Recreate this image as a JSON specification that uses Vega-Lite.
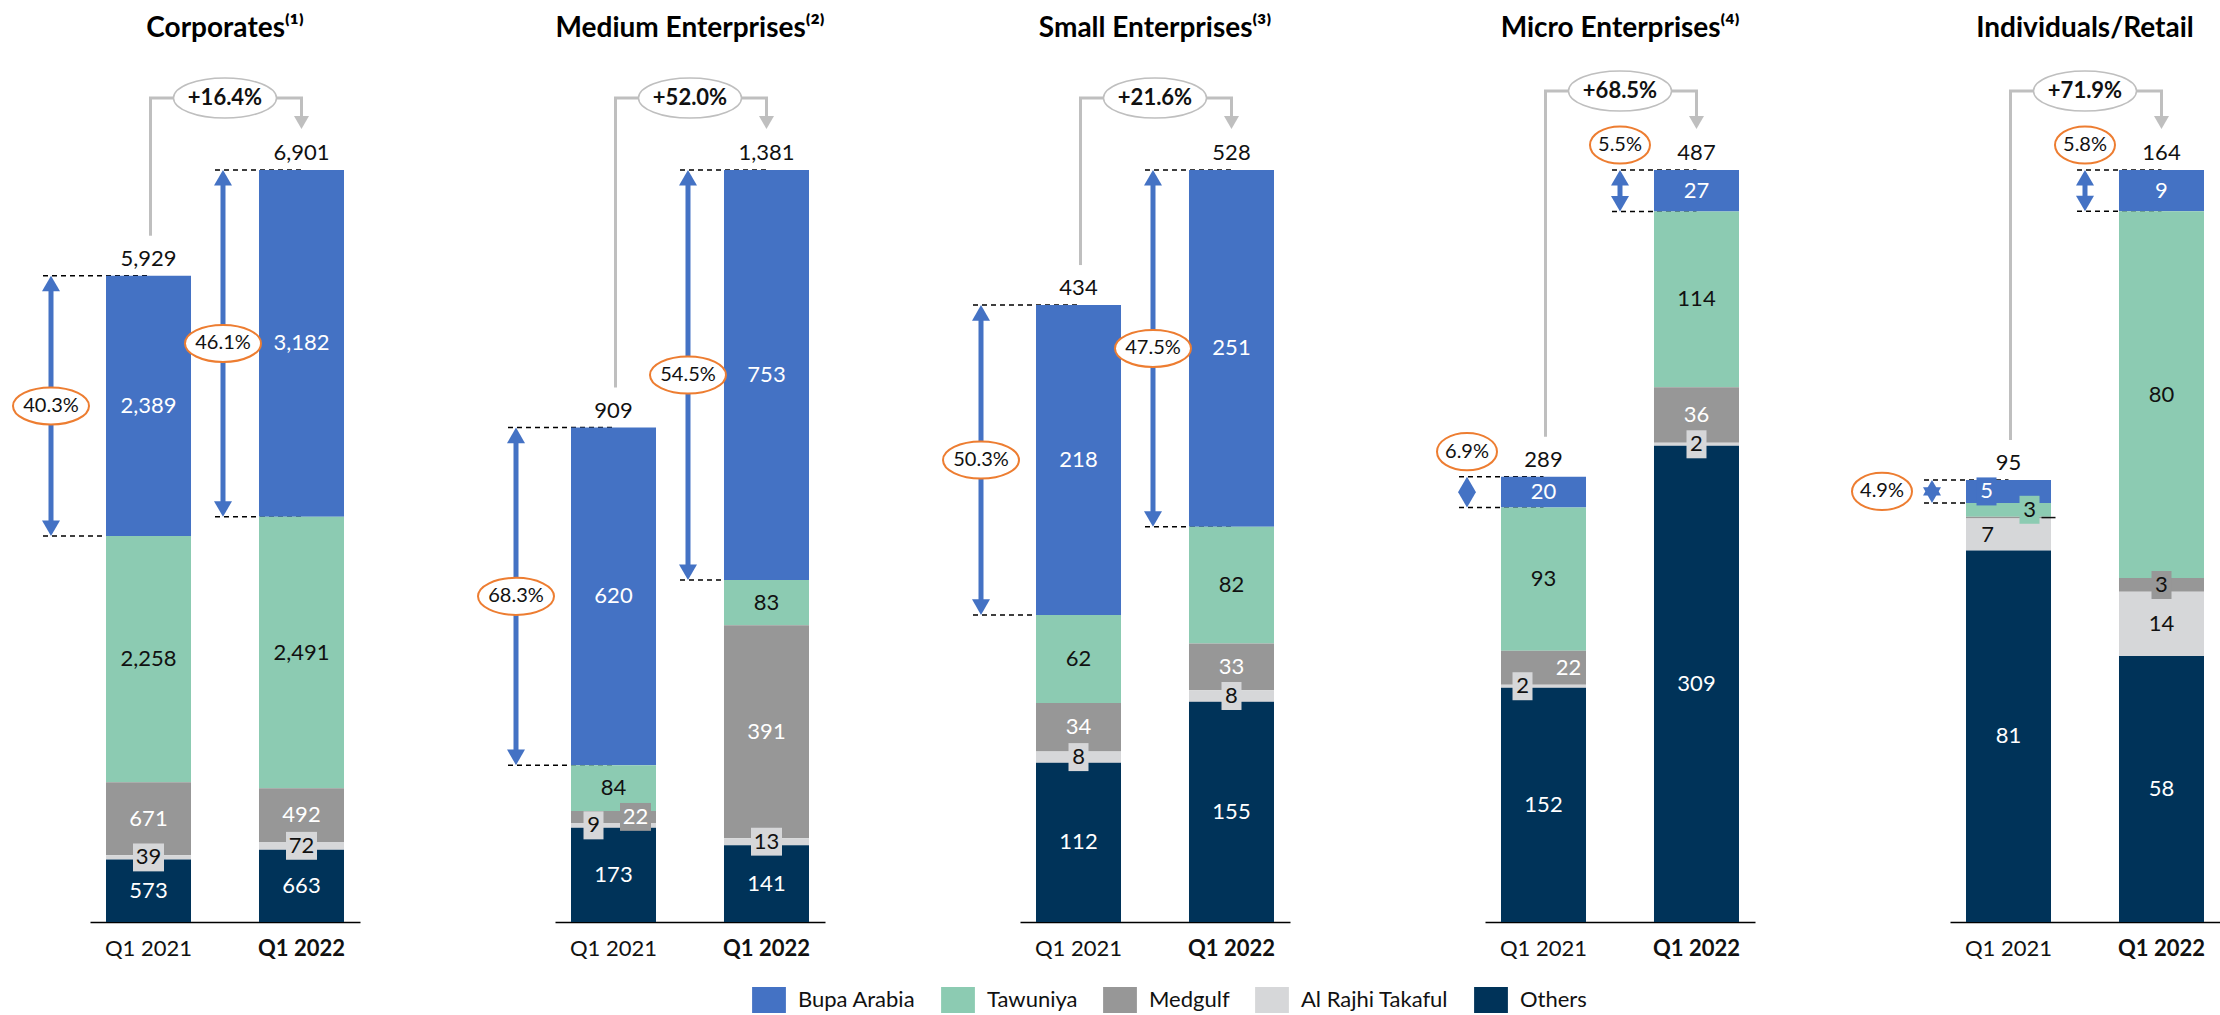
{
  "$schema": "https://vega.github.io/schema/vega-lite/v6.json",
  "background": "white",
  "padding": {"left": 9, "top": 15, "right": 0, "bottom": 0},
  "bounds": "flush",
  "config": {
    "view": {"stroke": null},
    "font": "Lato",
    "axisX": {"labelFont": "Lato", "labelFontSize": 22, "labelColor": "#111111", "ticks": false, "domainColor": "#000000", "domainWidth": 1.5, "labelPadding": 16, "labelAngle": 0, "grid": false}
  },
  "data": {"values": [
    {"panel": "Corporates⁽¹⁾", "period": "Q1 2021", "insurer": "Bupa Arabia", "value": 2389},
    {"panel": "Corporates⁽¹⁾", "period": "Q1 2021", "insurer": "Tawuniya", "value": 2258},
    {"panel": "Corporates⁽¹⁾", "period": "Q1 2021", "insurer": "Medgulf", "value": 671},
    {"panel": "Corporates⁽¹⁾", "period": "Q1 2021", "insurer": "Al Rajhi Takaful", "value": 39},
    {"panel": "Corporates⁽¹⁾", "period": "Q1 2021", "insurer": "Others", "value": 573},
    {"panel": "Corporates⁽¹⁾", "period": "Q1 2022", "insurer": "Bupa Arabia", "value": 3182},
    {"panel": "Corporates⁽¹⁾", "period": "Q1 2022", "insurer": "Tawuniya", "value": 2491},
    {"panel": "Corporates⁽¹⁾", "period": "Q1 2022", "insurer": "Medgulf", "value": 492},
    {"panel": "Corporates⁽¹⁾", "period": "Q1 2022", "insurer": "Al Rajhi Takaful", "value": 72},
    {"panel": "Corporates⁽¹⁾", "period": "Q1 2022", "insurer": "Others", "value": 663},
    {"panel": "Medium Enterprises⁽²⁾", "period": "Q1 2021", "insurer": "Bupa Arabia", "value": 620},
    {"panel": "Medium Enterprises⁽²⁾", "period": "Q1 2021", "insurer": "Tawuniya", "value": 84},
    {"panel": "Medium Enterprises⁽²⁾", "period": "Q1 2021", "insurer": "Medgulf", "value": 22},
    {"panel": "Medium Enterprises⁽²⁾", "period": "Q1 2021", "insurer": "Al Rajhi Takaful", "value": 9},
    {"panel": "Medium Enterprises⁽²⁾", "period": "Q1 2021", "insurer": "Others", "value": 173},
    {"panel": "Medium Enterprises⁽²⁾", "period": "Q1 2022", "insurer": "Bupa Arabia", "value": 753},
    {"panel": "Medium Enterprises⁽²⁾", "period": "Q1 2022", "insurer": "Tawuniya", "value": 83},
    {"panel": "Medium Enterprises⁽²⁾", "period": "Q1 2022", "insurer": "Medgulf", "value": 391},
    {"panel": "Medium Enterprises⁽²⁾", "period": "Q1 2022", "insurer": "Al Rajhi Takaful", "value": 13},
    {"panel": "Medium Enterprises⁽²⁾", "period": "Q1 2022", "insurer": "Others", "value": 141},
    {"panel": "Small Enterprises⁽³⁾", "period": "Q1 2021", "insurer": "Bupa Arabia", "value": 218},
    {"panel": "Small Enterprises⁽³⁾", "period": "Q1 2021", "insurer": "Tawuniya", "value": 62},
    {"panel": "Small Enterprises⁽³⁾", "period": "Q1 2021", "insurer": "Medgulf", "value": 34},
    {"panel": "Small Enterprises⁽³⁾", "period": "Q1 2021", "insurer": "Al Rajhi Takaful", "value": 8},
    {"panel": "Small Enterprises⁽³⁾", "period": "Q1 2021", "insurer": "Others", "value": 112},
    {"panel": "Small Enterprises⁽³⁾", "period": "Q1 2022", "insurer": "Bupa Arabia", "value": 251},
    {"panel": "Small Enterprises⁽³⁾", "period": "Q1 2022", "insurer": "Tawuniya", "value": 82},
    {"panel": "Small Enterprises⁽³⁾", "period": "Q1 2022", "insurer": "Medgulf", "value": 33},
    {"panel": "Small Enterprises⁽³⁾", "period": "Q1 2022", "insurer": "Al Rajhi Takaful", "value": 8},
    {"panel": "Small Enterprises⁽³⁾", "period": "Q1 2022", "insurer": "Others", "value": 155},
    {"panel": "Micro Enterprises⁽⁴⁾", "period": "Q1 2021", "insurer": "Bupa Arabia", "value": 20},
    {"panel": "Micro Enterprises⁽⁴⁾", "period": "Q1 2021", "insurer": "Tawuniya", "value": 93},
    {"panel": "Micro Enterprises⁽⁴⁾", "period": "Q1 2021", "insurer": "Medgulf", "value": 22},
    {"panel": "Micro Enterprises⁽⁴⁾", "period": "Q1 2021", "insurer": "Al Rajhi Takaful", "value": 2},
    {"panel": "Micro Enterprises⁽⁴⁾", "period": "Q1 2021", "insurer": "Others", "value": 152},
    {"panel": "Micro Enterprises⁽⁴⁾", "period": "Q1 2022", "insurer": "Bupa Arabia", "value": 27},
    {"panel": "Micro Enterprises⁽⁴⁾", "period": "Q1 2022", "insurer": "Tawuniya", "value": 114},
    {"panel": "Micro Enterprises⁽⁴⁾", "period": "Q1 2022", "insurer": "Medgulf", "value": 36},
    {"panel": "Micro Enterprises⁽⁴⁾", "period": "Q1 2022", "insurer": "Al Rajhi Takaful", "value": 2},
    {"panel": "Micro Enterprises⁽⁴⁾", "period": "Q1 2022", "insurer": "Others", "value": 309},
    {"panel": "Individuals/Retail", "period": "Q1 2021", "insurer": "Bupa Arabia", "value": 5},
    {"panel": "Individuals/Retail", "period": "Q1 2021", "insurer": "Tawuniya", "value": 3},
    {"panel": "Individuals/Retail", "period": "Q1 2021", "insurer": "Medgulf", "value": 0.4},
    {"panel": "Individuals/Retail", "period": "Q1 2021", "insurer": "Al Rajhi Takaful", "value": 7},
    {"panel": "Individuals/Retail", "period": "Q1 2021", "insurer": "Others", "value": 81},
    {"panel": "Individuals/Retail", "period": "Q1 2022", "insurer": "Bupa Arabia", "value": 9},
    {"panel": "Individuals/Retail", "period": "Q1 2022", "insurer": "Tawuniya", "value": 80},
    {"panel": "Individuals/Retail", "period": "Q1 2022", "insurer": "Medgulf", "value": 3},
    {"panel": "Individuals/Retail", "period": "Q1 2022", "insurer": "Al Rajhi Takaful", "value": 14},
    {"panel": "Individuals/Retail", "period": "Q1 2022", "insurer": "Others", "value": 58},
    {"panel": "Corporates⁽¹⁾", "period": "Q1 2021", "total": 5929, "share": 40.3},
    {"panel": "Corporates⁽¹⁾", "period": "Q1 2022", "total": 6901, "share": 46.1, "growth": "+16.4%"},
    {"panel": "Medium Enterprises⁽²⁾", "period": "Q1 2021", "total": 909, "share": 68.3},
    {"panel": "Medium Enterprises⁽²⁾", "period": "Q1 2022", "total": 1381, "share": 54.5, "growth": "+52.0%"},
    {"panel": "Small Enterprises⁽³⁾", "period": "Q1 2021", "total": 434, "share": 50.3},
    {"panel": "Small Enterprises⁽³⁾", "period": "Q1 2022", "total": 528, "share": 47.5, "growth": "+21.6%"},
    {"panel": "Micro Enterprises⁽⁴⁾", "period": "Q1 2021", "total": 289, "share": 6.9},
    {"panel": "Micro Enterprises⁽⁴⁾", "period": "Q1 2022", "total": 487, "share": 5.5, "growth": "+68.5%"},
    {"panel": "Individuals/Retail", "period": "Q1 2021", "total": 95, "share": 4.9},
    {"panel": "Individuals/Retail", "period": "Q1 2022", "total": 164, "share": 5.8, "growth": "+71.9%"}
  ]},
  "transform": [
    {"calculate": "indexof(['Corporates⁽¹⁾','Medium Enterprises⁽²⁾','Small Enterprises⁽³⁾','Micro Enterprises⁽⁴⁾','Individuals/Retail'], datum.panel)", "as": "pi"},
    {"calculate": "isValid(datum.insurer) ? indexof(['Others','Al Rajhi Takaful','Medgulf','Tawuniya','Bupa Arabia'], datum.insurer) : 99", "as": "ord"},
    {"stack": "value", "groupby": ["panel", "period"], "sort": [{"field": "ord", "order": "ascending"}], "as": ["v0", "v1"]},
    {"joinaggregate": [{"op": "max", "field": "v1", "as": "top"}, {"op": "max", "field": "share", "as": "sh"}], "groupby": ["panel", "period"]},
    {"joinaggregate": [{"op": "max", "field": "top", "as": "maxT"}], "groupby": ["panel"]},
    {"calculate": "(datum.v0 + datum.v1) / 2", "as": "vm"},
    {"calculate": "datum.pi < 3 ? (datum.period == 'Q1 2021' ? -55 : -36) : -34", "as": "ax"},
    {"calculate": "(datum.insurer == 'Al Rajhi Takaful' && datum.pi < 4) || (datum.pi == 1 && datum.period == 'Q1 2021' && datum.insurer == 'Medgulf') || (datum.pi == 4 && datum.period == 'Q1 2021' && (datum.insurer == 'Bupa Arabia' || datum.insurer == 'Tawuniya')) || (datum.pi == 4 && datum.period == 'Q1 2022' && datum.insurer == 'Medgulf')", "as": "boxed"},
    {"calculate": "datum.period == 'Q1 2021' ? (datum.pi == 1 ? (datum.insurer == 'Al Rajhi Takaful' ? -20 : datum.insurer == 'Medgulf' ? 22 : 0) : datum.pi == 3 ? (datum.insurer == 'Al Rajhi Takaful' ? -21 : datum.insurer == 'Medgulf' ? 25 : 0) : datum.pi == 4 ? (datum.insurer == 'Bupa Arabia' ? -22 : datum.insurer == 'Tawuniya' ? 21 : datum.insurer == 'Al Rajhi Takaful' ? -21 : 0) : 0) : 0", "as": "dxl"},
    {"calculate": "(datum.insurer == 'Tawuniya' || datum.insurer == 'Al Rajhi Takaful' || (datum.pi == 4 && datum.insurer == 'Medgulf')) ? '#111111' : '#ffffff'", "as": "tcol"},
    {"calculate": "datum.insurer == 'Bupa Arabia' ? '#4472C4' : datum.insurer == 'Tawuniya' ? '#8CCBB2' : datum.insurer == 'Medgulf' ? '#979797' : datum.insurer == 'Al Rajhi Takaful' ? '#D6D7D9' : '#003359'", "as": "bcol"},
    {"calculate": "datum.value >= 10 ? 'M-1 -0.9H1V0.9H-1Z' : 'M-1 -1.4H1V1.4H-1Z'", "as": "bshape"},
    {"calculate": "datum.value >= 10 ? 961 : 400", "as": "bsize"},
    {"calculate": "datum.pi < 3 ? 'M-1 0A1 0.487 0 1 1 1 0A1 0.487 0 1 1 -1 0Z' : 'M-1 0A1 0.62 0 1 1 1 0A1 0.62 0 1 1 -1 0Z'", "as": "eshape"},
    {"calculate": "datum.pi < 3 ? 5776 : 3600", "as": "esize"},
    {"calculate": "(datum.pi < 3 || (datum.pi == 4 && datum.period == 'Q1 2021')) ? datum.vm : datum.v1", "as": "sy"},
    {"calculate": "(datum.pi < 3 || (datum.pi == 4 && datum.period == 'Q1 2021')) ? 0 : -25", "as": "syo"},
    {"calculate": "datum.ax + ((datum.pi == 4 && datum.period == 'Q1 2021') ? -50 : 0)", "as": "sxo"},
    {"calculate": "format(datum.sh, '.1f') + '%'", "as": "stext"},
    {"calculate": "datum.pi >= 3 ? -79 : -72", "as": "gy"}
  ],
  "facet": {"column": {"field": "panel", "type": "nominal", "title": null,
    "sort": ["Corporates⁽¹⁾", "Medium Enterprises⁽²⁾", "Small Enterprises⁽³⁾", "Micro Enterprises⁽⁴⁾", "Individuals/Retail"],
    "header": {"labelFont": "Lato", "labelFontSize": 28, "labelFontWeight": "bold", "labelColor": "#000000", "labelPadding": 127}}},
  "spacing": 195,
  "resolve": {"scale": {"y": "independent"}},
  "spec": {
    "width": 270,
    "height": 752,
    "layer": [
      {"transform": [{"filter": "datum.insurer == 'Bupa Arabia'"}],
       "mark": {"type": "rule", "color": "#000000", "strokeWidth": 1.5, "strokeDash": [5, 4], "xOffset": {"expr": "datum.ax - 8"}},
       "encoding": {
         "x": {"field": "period", "type": "nominal", "title": null, "sort": ["Q1 2021", "Q1 2022"], "scale": {"paddingInner": 0.4444, "paddingOuter": 0.1046}, "bandPosition": 0,
               "axis": {"labelFontWeight": {"condition": {"test": "datum.value === 'Q1 2022'", "value": "bold"}, "value": "normal"}}},
         "x2": {"field": "period", "bandPosition": 0.5},
         "y": {"field": "v1", "type": "quantitative", "scale": {"nice": false, "zero": true}, "axis": null}}},
      {"transform": [{"filter": "datum.insurer == 'Bupa Arabia'"}],
       "mark": {"type": "rule", "color": "#000000", "strokeWidth": 1.5, "strokeDash": [5, 4], "xOffset": {"expr": "datum.ax - 8"}},
       "encoding": {
         "x": {"field": "period", "type": "nominal", "title": null, "sort": ["Q1 2021", "Q1 2022"], "bandPosition": 0},
         "x2": {"field": "period", "bandPosition": 0.5},
         "y": {"field": "v0", "type": "quantitative", "axis": null}}},
      {"transform": [{"filter": "isValid(datum.insurer)"}],
       "mark": {"type": "bar"},
       "encoding": {
         "x": {"field": "period", "type": "nominal", "title": null, "sort": ["Q1 2021", "Q1 2022"]},
         "y": {"field": "v1", "type": "quantitative", "axis": null},
         "y2": {"field": "v0"},
         "color": {"field": "insurer", "type": "nominal",
           "scale": {"domain": ["Bupa Arabia", "Tawuniya", "Medgulf", "Al Rajhi Takaful", "Others"], "range": ["#4472C4", "#8CCBB2", "#979797", "#D6D7D9", "#003359"]},
           "legend": {"orient": "none", "legendX": 666, "legendY": 817, "direction": "horizontal", "title": null,
             "symbolType": "M-1.3 -1H1.3V1H-1.3Z", "symbolSize": 676, "symbolStrokeWidth": 0, "symbolOpacity": 1,
             "labelFont": "Lato", "labelFontSize": 22, "labelColor": "#111111", "labelOffset": 16, "columnPadding": 25, "padding": 0}}}},
      {"transform": [{"filter": "isValid(datum.insurer) && datum.value >= 1 && datum.boxed"}],
       "mark": {"type": "point", "filled": true, "opacity": 1, "strokeWidth": 0, "xOffset": {"expr": "datum.dxl"}},
       "encoding": {
         "x": {"field": "period", "type": "nominal", "title": null, "sort": ["Q1 2021", "Q1 2022"]},
         "y": {"field": "vm", "type": "quantitative", "axis": null},
         "fill": {"field": "bcol", "type": "nominal", "scale": null},
         "shape": {"field": "bshape", "type": "nominal", "scale": null},
         "size": {"field": "bsize", "type": "quantitative", "scale": null}}},
      {"transform": [{"filter": "isValid(datum.insurer) && datum.value >= 1"}],
       "mark": {"type": "text", "font": "Lato", "fontSize": 22, "baseline": "middle", "xOffset": {"expr": "datum.dxl"}},
       "encoding": {
         "x": {"field": "period", "type": "nominal", "title": null, "sort": ["Q1 2021", "Q1 2022"]},
         "y": {"field": "vm", "type": "quantitative", "axis": null},
         "text": {"field": "value", "type": "quantitative", "format": ","},
         "fill": {"field": "tcol", "type": "nominal", "scale": null}}},
      {"transform": [{"filter": "datum.pi == 4 && datum.period == 'Q1 2021' && datum.insurer == 'Medgulf'"}],
       "mark": {"type": "rule", "color": "#111111", "strokeWidth": 1.5, "xOffset": 33, "x2Offset": 47},
       "encoding": {
         "x": {"field": "period", "type": "nominal", "title": null, "sort": ["Q1 2021", "Q1 2022"], "bandPosition": 0.5},
         "x2": {"field": "period", "bandPosition": 0.5},
         "y": {"field": "vm", "type": "quantitative", "axis": null}}},
      {"transform": [{"filter": "datum.insurer == 'Bupa Arabia'"}],
       "mark": {"type": "rule", "color": "#4472C4", "strokeWidth": 5, "xOffset": {"expr": "datum.ax"}, "yOffset": 12, "y2Offset": -12},
       "encoding": {
         "x": {"field": "period", "type": "nominal", "title": null, "sort": ["Q1 2021", "Q1 2022"], "bandPosition": 0},
         "y": {"field": "v1", "type": "quantitative", "axis": null},
         "y2": {"field": "v0"}}},
      {"transform": [{"filter": "datum.insurer == 'Bupa Arabia'"}],
       "mark": {"type": "point", "shape": "triangle-up", "size": 324, "filled": true, "opacity": 1, "color": "#4472C4", "xOffset": {"expr": "datum.ax"}, "yOffset": 7.8},
       "encoding": {
         "x": {"field": "period", "type": "nominal", "title": null, "sort": ["Q1 2021", "Q1 2022"], "bandPosition": 0},
         "y": {"field": "v1", "type": "quantitative", "axis": null}}},
      {"transform": [{"filter": "datum.insurer == 'Bupa Arabia'"}],
       "mark": {"type": "point", "shape": "triangle-down", "size": 324, "filled": true, "opacity": 1, "color": "#4472C4", "xOffset": {"expr": "datum.ax"}, "yOffset": -7.8},
       "encoding": {
         "x": {"field": "period", "type": "nominal", "title": null, "sort": ["Q1 2021", "Q1 2022"], "bandPosition": 0},
         "y": {"field": "v0", "type": "quantitative", "axis": null}}},
      {"transform": [{"filter": "datum.insurer == 'Bupa Arabia'"}],
       "mark": {"type": "point", "filled": true, "fill": "#ffffff", "stroke": "#ED7D31", "strokeWidth": 2, "opacity": 1, "fillOpacity": 1, "xOffset": {"expr": "datum.sxo"}, "yOffset": {"expr": "datum.syo"}},
       "encoding": {
         "x": {"field": "period", "type": "nominal", "title": null, "sort": ["Q1 2021", "Q1 2022"], "bandPosition": 0},
         "y": {"field": "sy", "type": "quantitative", "axis": null},
         "shape": {"field": "eshape", "type": "nominal", "scale": null},
         "size": {"field": "esize", "type": "quantitative", "scale": null}}},
      {"transform": [{"filter": "datum.insurer == 'Bupa Arabia'"}],
       "mark": {"type": "text", "font": "Lato", "fontSize": 20, "color": "#111111", "baseline": "middle", "xOffset": {"expr": "datum.sxo"}, "yOffset": {"expr": "datum.syo"}},
       "encoding": {
         "x": {"field": "period", "type": "nominal", "title": null, "sort": ["Q1 2021", "Q1 2022"], "bandPosition": 0},
         "y": {"field": "sy", "type": "quantitative", "axis": null},
         "text": {"field": "stext", "type": "nominal"}}},
      {"transform": [{"filter": "isValid(datum.total)"}],
       "mark": {"type": "text", "font": "Lato", "fontSize": 22, "color": "#111111", "baseline": "middle", "dy": -17},
       "encoding": {
         "x": {"field": "period", "type": "nominal", "title": null, "sort": ["Q1 2021", "Q1 2022"]},
         "y": {"field": "top", "type": "quantitative", "axis": null},
         "text": {"field": "total", "type": "quantitative", "format": ","}}},
      {"transform": [{"filter": "isValid(datum.total) && datum.period == 'Q1 2021'"}],
       "mark": {"type": "rule", "color": "#BFBFBF", "strokeWidth": 3, "xOffset": 2, "yOffset": -40, "y2Offset": {"expr": "datum.gy"}},
       "encoding": {
         "x": {"field": "period", "type": "nominal", "title": null, "sort": ["Q1 2021", "Q1 2022"]},
         "y": {"field": "top", "type": "quantitative", "axis": null},
         "y2": {"field": "maxT"}}},
      {"transform": [{"filter": "isValid(datum.growth)"}],
       "mark": {"type": "rule", "color": "#BFBFBF", "strokeWidth": 3, "strokeCap": "square", "xOffset": -151, "yOffset": {"expr": "datum.gy"}},
       "encoding": {
         "x": {"field": "period", "type": "nominal", "title": null, "sort": ["Q1 2021", "Q1 2022"], "bandPosition": 0.5},
         "x2": {"field": "period", "bandPosition": 0.5},
         "y": {"field": "maxT", "type": "quantitative", "axis": null}}},
      {"transform": [{"filter": "isValid(datum.growth)"}],
       "mark": {"type": "rule", "color": "#BFBFBF", "strokeWidth": 3, "yOffset": {"expr": "datum.gy"}, "y2Offset": -47},
       "encoding": {
         "x": {"field": "period", "type": "nominal", "title": null, "sort": ["Q1 2021", "Q1 2022"]},
         "y": {"field": "maxT", "type": "quantitative", "axis": null},
         "y2": {"field": "maxT"}}},
      {"transform": [{"filter": "isValid(datum.growth)"}],
       "mark": {"type": "point", "shape": "triangle-down", "size": 225, "filled": true, "opacity": 1, "color": "#BFBFBF", "yOffset": -47.5},
       "encoding": {
         "x": {"field": "period", "type": "nominal", "title": null, "sort": ["Q1 2021", "Q1 2022"]},
         "y": {"field": "maxT", "type": "quantitative", "axis": null}}},
      {"transform": [{"filter": "isValid(datum.growth)"}],
       "mark": {"type": "point", "shape": "M-1 0A1 0.39 0 1 1 1 0A1 0.39 0 1 1 -1 0Z", "size": 10609, "filled": true, "fill": "#ffffff", "stroke": "#BFBFBF", "strokeWidth": 1.5, "opacity": 1, "xOffset": -76.5, "yOffset": {"expr": "datum.gy"}},
       "encoding": {
         "x": {"field": "period", "type": "nominal", "title": null, "sort": ["Q1 2021", "Q1 2022"]},
         "y": {"field": "maxT", "type": "quantitative", "axis": null}}},
      {"transform": [{"filter": "isValid(datum.growth)"}],
       "mark": {"type": "text", "font": "Lato", "fontSize": 22, "fontWeight": "bold", "color": "#111111", "baseline": "middle", "xOffset": -76.5, "yOffset": {"expr": "datum.gy"}},
       "encoding": {
         "x": {"field": "period", "type": "nominal", "title": null, "sort": ["Q1 2021", "Q1 2022"]},
         "y": {"field": "maxT", "type": "quantitative", "axis": null},
         "text": {"field": "growth", "type": "nominal"}}}
    ]
  }
}
